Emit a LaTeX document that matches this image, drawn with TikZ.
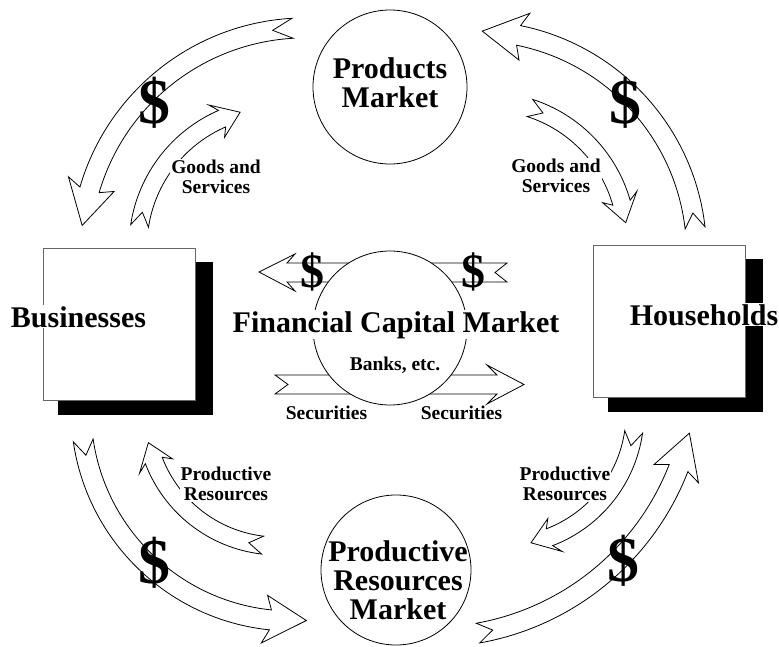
\documentclass[tikz,border=0pt]{standalone}
\usepackage{fontspec}
\setmainfont{Liberation Serif}
\newcommand\curvarrow[9]{%
  \pgfmathsetmacro\cSgn{sign(#6-#4)}%
  \pgfmathsetmacro\cJa{#5+\cSgn*6/#3*57.2958}%
  \pgfmathsetmacro\cNa{#4+\cSgn*#9/#3*57.2958}%
  \pgfmathsetmacro\cRo{#3+#7}%
  \pgfmathsetmacro\cRi{#3-#7}%
  \pgfmathsetmacro\cBo{#3+#8}%
  \pgfmathsetmacro\cBi{#3-#8}%
  \draw[band] ([shift={(#1,#2)}]#4:\cRo pt) arc[start angle=#4, end angle=\cJa, radius=\cRo pt]
    -- ([shift={(#1,#2)}]#5:\cBo pt) -- ([shift={(#1,#2)}]#6:#3pt)
    -- ([shift={(#1,#2)}]#5:\cBi pt) -- ([shift={(#1,#2)}]\cJa:\cRi pt)
    arc[start angle=\cJa, end angle=#4, radius=\cRi pt]
    -- ([shift={(#1,#2)}]\cNa:#3pt) -- cycle;
}
\begin{document}
\begin{tikzpicture}[x=1pt,y=1pt,yscale=-1,
  band/.style={draw, fill=white, line width=0.8pt, line join=miter},
  mkt/.style={draw, circle, fill=white, line width=0.8pt, inner sep=0pt},
  boxnode/.style={draw=black!60, fill=white, line width=0.8pt, inner sep=0pt, minimum width=152pt, minimum height=152pt},
  shadownode/.style={fill=black, inner sep=0pt, minimum width=155pt, minimum height=153pt},
  biglbl/.style={font=\bfseries\fontsize{30}{29}\selectfont, align=center, inner sep=1pt},
  smalllbl/.style={font=\bfseries\fontsize{19.5}{19.5}\selectfont, align=center, inner sep=1pt, fill=white},
  dollar/.style={font=\bfseries\fontsize{64}{64}\selectfont, inner sep=0pt},
  sdollar/.style={font=\bfseries\fontsize{48}{48}\selectfont, inner sep=0pt}]
\useasboundingbox (0,0) rectangle (779,647);
% horizontal arrows through the financial market
\draw[band] (507,263) -- (287,263) -- (295,254) -- (259,272) -- (295,291) -- (287,282) -- (507,282) -- (495,272.5) -- cycle;
\draw[band] (275,375) -- (497,375) -- (487,365) -- (524,384.5) -- (487,404) -- (497,394) -- (275,394) -- (288,384.5) -- cycle;
\node[mkt, minimum size=154pt] (fcm) at (390,328) {};
% curved arrows
\curvarrow{305.5}{252.9}{225}{-93.3}{-162.2}{-173}{10}{24}{20}
\curvarrow{278}{247}{140}{-171.35}{-116}{-105.7}{9}{18}{14}
\curvarrow{474.5}{253}{222}{-6.5}{-77}{-88}{10}{24}{15}
\curvarrow{486.9}{241.2}{140}{-72.1}{-18.4}{-7.6}{9}{18}{14}
\curvarrow{292}{410}{211}{171.7}{97.5}{86.1}{10}{24}{15}
\curvarrow{278}{413}{133}{96.65}{156.5}{167.1}{9}{18}{14}
\curvarrow{431.5}{372.2}{265}{79.9}{22.5}{13.3}{10}{24}{15}
\curvarrow{502}{413}{133}{8.2}{66.5}{77.4}{9}{18}{14}
% markets
\node[mkt, minimum size=154pt] (pm) at (390,87) {};
\node[mkt, minimum size=150pt] (prm) at (396,570) {};
% boxes
\node[shadownode] (bshadow) at (135.5,338.5) {};
\node[boxnode] (bus) at (119,324) {};
\node[shadownode] (hshadow) at (685.5,335.5) {};
\node[boxnode] (hh) at (669,321) {};
% labels
\node[biglbl] (pmtext) at (390,83) {Products\\Market};
\node[biglbl] (prmtext) at (398,580) {Productive\\Resources\\Market};
\node[biglbl, fill=white, anchor=base] (fcmtext) at (396,332) {Financial Capital Market};
\node[biglbl, fill=white, anchor=base] (bustext) at (78.5,327) {Businesses};
\node[biglbl, fill=white, anchor=base] (hhtext) at (704,325) {Households};
\node[smalllbl, fill=none, anchor=base] (banks) at (395,370) {Banks, etc.};
\node[smalllbl, fill=none, anchor=base] (secl) at (326.5,419) {Securities};
\node[smalllbl, fill=none, anchor=base] (secr) at (461.5,419) {Securities};
\node[smalllbl] (gsl) at (216,177) {Goods and\\Services};
\node[smalllbl] (gsr) at (556,176) {Goods and\\Services};
\node[smalllbl] (prl) at (226,484) {Productive\\Resources};
\node[smalllbl] (prr) at (565,484) {Productive\\Resources};
% dollar signs
\node[dollar] (d1) at (154,103) {\$};
\node[dollar] (d2) at (625,103) {\$};
\node[dollar] (d3) at (154,563) {\$};
\node[dollar] (d4) at (623,561) {\$};
\node[sdollar] (d5) at (312,272) {\$};
\node[sdollar] (d6) at (473,272) {\$};
\end{tikzpicture}
\end{document}
